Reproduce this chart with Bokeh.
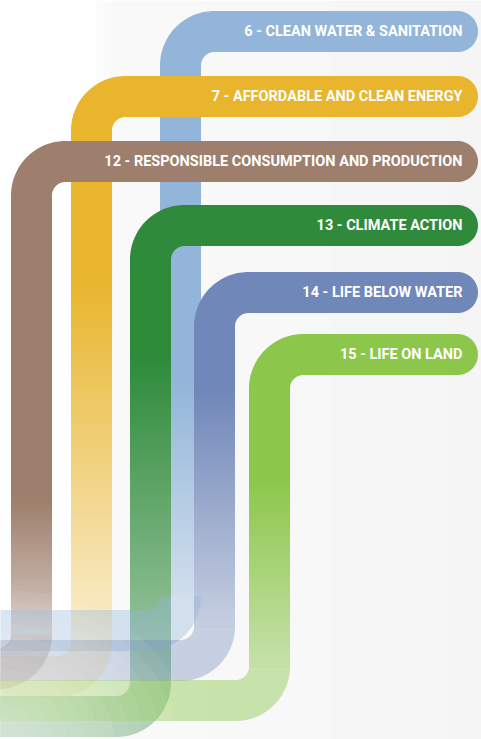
import numpy as np
from bokeh.plotting import figure
from bokeh.models import Range1d, ColumnDataSource
from bokeh.core.properties import value
from bokeh.embed import file_html
from bokeh.resources import INLINE

# ---------------- data ----------------
goals = [
    "6 - CLEAN WATER & SANITATION",
    "7 - AFFORDABLE AND CLEAN ENERGY",
    "12 - RESPONSIBLE CONSUMPTION AND PRODUCTION",
    "13 - CLIMATE ACTION",
    "14 - LIFE BELOW WATER",
    "15 - LIFE ON LAND",
]
goal_colors = ["#92b5d9", "#e8b52d", "#9e7e6c", "#2f8b3b", "#7087b9", "#8cc74c"]

# ---------------- layout (picture pixels) ----------------
top_y = [31, 96, 161, 225, 292, 354]          # centre of the labelled ribbon
stem_x = [180, 91, 31, 150, 214, 269]         # centre of the vertical stem
bottom_y = [630, 676, 668, 716, 660, 700]     # centre of the bottom return
fade_from = [380, 280, 500, 360, 390, 480]    # where the stem starts to fade
alpha_end = [0.38, 0.22, 0.42, 0.42, 0.36, 0.45]
HW = 20.5      # half ribbon width
R = 34         # centre-line corner radius
X_END = 457    # flat end of ribbon (round cap beyond)
LABEL_X = 462

W, H = 481, 739
p = figure(width=W, height=H, x_range=Range1d(0, W), y_range=Range1d(H, 0),
           x_axis_type=None, y_axis_type=None, toolbar_location=None,
           output_backend="svg", min_border=0)
p.outline_line_color = None
p.background_fill_color = "white"
p.border_fill_color = "white"


def bg_level(x):
    if x < 86:
        return 255.0
    if x < 114:
        return 255 - (x - 86) / 28 * 7
    return 248 - (x - 114) / (W - 114) * 6


bx = np.arange(0, W)
bg_cols = ["#%02x%02x%02x" % ((int(round(bg_level(x))),) * 3) for x in bx]
p.quad(left=bx, right=bx + 1, top=0, bottom=H, fill_color=bg_cols, line_color=None)


def arc(cx, cy, rad, a0, a1, n=40):
    t = np.linspace(a0, a1, n)
    return cx + rad * np.cos(t), cy + rad * np.sin(t)


def blend(col, a, bg):
    r, g, b = (int(col[k:k + 2], 16) for k in (1, 3, 5))
    return "#%02x%02x%02x" % tuple(int(round(a * c + (1 - a) * bg)) for c in (r, g, b))


# ribbons and stems, in label order
for i, col in enumerate(goal_colors):
    ty, sx, by = top_y[i], stem_x[i], bottom_y[i]
    ox, oy = arc(sx + R, ty + R, R + HW, np.pi, 1.5 * np.pi)
    ex, ey = arc(X_END, ty, HW, -np.pi / 2, np.pi / 2)
    ix, iy = arc(sx + R, ty + R, R - HW, 1.5 * np.pi, np.pi)
    p.patch([*ox, *ex, *ix], [*oy, *ey, *iy], fill_color=col, line_color=None)
    y0, y1 = ty + R, by - R
    tops = np.arange(y0 - 1, y1, 2.0)
    bots = np.minimum(tops + 3, y1)
    mids = (tops + bots) / 2
    fa = np.where(mids < fade_from[i], 1.0,
                  1.0 - (1.0 - alpha_end[i]) * (mids - fade_from[i]) / (y1 - fade_from[i]))
    bgl = bg_level(sx)
    cols = [blend(col, a, bgl) for a in fa]
    src = ColumnDataSource(dict(top=tops, bottom=bots, c=cols))
    p.quad(left=sx - HW, right=sx + HW, top="top", bottom="bottom",
           fill_color="c", line_color=None, source=src)

# translucent returns along the bottom, laid over everything
for i, col in enumerate(goal_colors):
    sx, by = stem_x[i], bottom_y[i]
    ox, oy = arc(sx - R, by - R, R + HW, 0, np.pi / 2)
    ix, iy = arc(sx - R, by - R, R - HW, np.pi / 2, 0)
    xs = [*ox, -5, -5, *ix]
    ys = [*oy, by + HW, by - HW, *iy]
    p.patch(xs, ys, fill_color=col, fill_alpha=alpha_end[i], line_color=None)

# soft white haze fading the bottom-left corner
n_haze = 12
hw_ = np.linspace(380, 40, n_haze)
hh_ = np.linspace(300, 50, n_haze)
p.ellipse(x=np.zeros(n_haze), y=np.full(n_haze, H), width=hw_, height=hh_,
          fill_color="white", fill_alpha=0.06, line_color=None)

p.text(x=[LABEL_X] * len(goals), y=top_y, text=goals, text_align="right",
       text_baseline="middle", text_color="white", text_font_style="bold",
       text_font=value("Roboto"), text_font_size="14.5px")

open("out.html", "w").write(file_html(p, INLINE))
